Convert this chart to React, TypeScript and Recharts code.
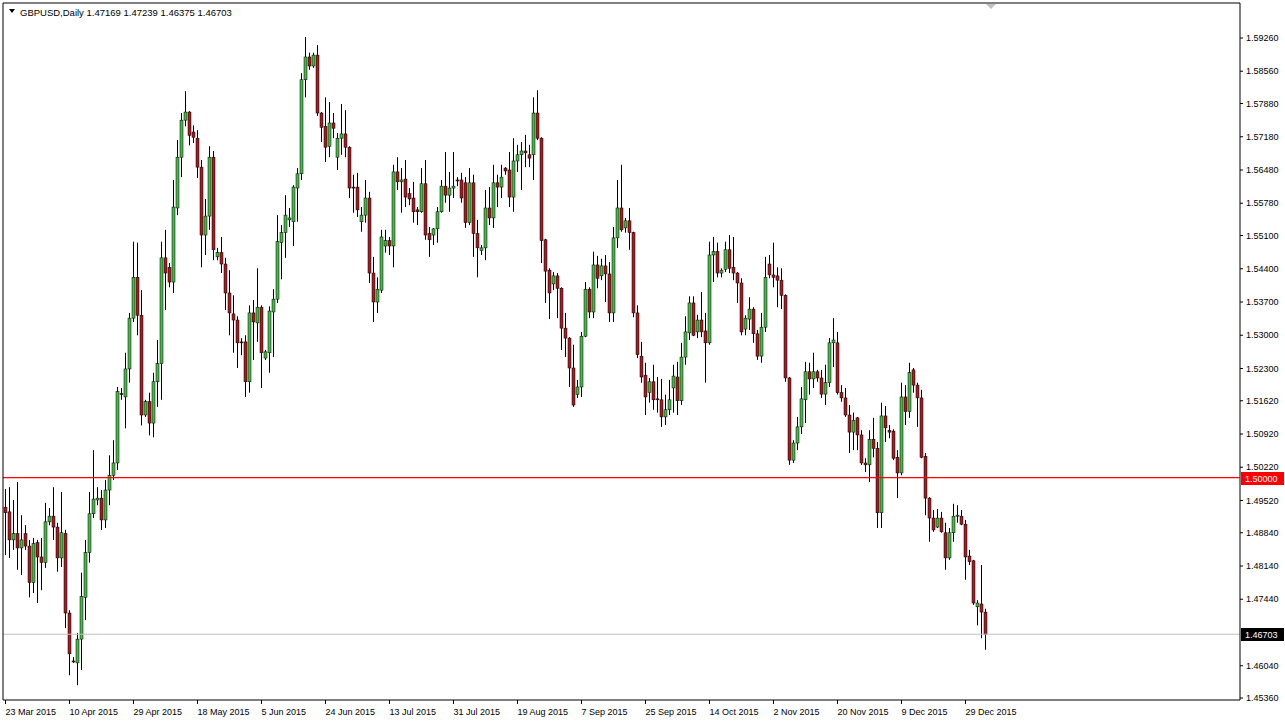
import { ComposedChart, Bar, XAxis, YAxis, ReferenceLine } from 'recharts';

// GBPUSD daily candles, 23 Mar 2015 .. 4 Jan 2016 (MT4 with Sunday bars)
const SYMBOL = 'GBPUSD,Daily';

const OPEN = [
  1.4938, 1.4928, 1.4869, 1.4882, 1.4852, 1.4882, 1.4856, 1.4779, 1.4863, 1.4833,
  1.4821, 1.4907, 1.4919, 1.4896, 1.4831, 1.4882, 1.4715, 1.4614, 1.4610, 1.4660,
  1.4748, 1.4842, 1.4924, 1.4953, 1.4957, 1.4911, 1.4974, 1.5005, 1.5031, 1.5177,
  1.5170, 1.5229, 1.5336, 1.5422, 1.5342, 1.5132, 1.5160, 1.5115, 1.5202, 1.5240,
  1.5463, 1.5443, 1.5412, 1.5568, 1.5675, 1.5753, 1.5770, 1.5728, 1.5715, 1.5654,
  1.5511, 1.5551, 1.5675, 1.5465, 1.5474, 1.5450, 1.5389, 1.5345, 1.5332, 1.5286,
  1.5286, 1.5202, 1.5347, 1.5326, 1.5359, 1.5252, 1.5263, 1.5349, 1.5376, 1.5495,
  1.5516, 1.5543, 1.5539, 1.5610, 1.5640, 1.5838, 1.5886, 1.5867, 1.5890, 1.5768,
  1.5740, 1.5698, 1.5747, 1.5675, 1.5715, 1.5724, 1.5696, 1.5612, 1.5612, 1.5539,
  1.5553, 1.5589, 1.5431, 1.5370, 1.5395, 1.5488, 1.5499, 1.5488, 1.5644, 1.5623,
  1.5629, 1.5598, 1.5589, 1.5564, 1.5560, 1.5619, 1.5514, 1.5511, 1.5524, 1.5560,
  1.5614, 1.5595, 1.5610, 1.5627, 1.5627, 1.5621, 1.5537, 1.5621, 1.5514, 1.5478,
  1.5484, 1.5568, 1.5547, 1.5621, 1.5612, 1.5652, 1.5648, 1.5591, 1.5667, 1.5680,
  1.5688, 1.5680, 1.5680, 1.5768, 1.5715, 1.5501, 1.5437, 1.5408, 1.5425, 1.5399,
  1.5315, 1.5294, 1.5231, 1.5175, 1.5191, 1.5298, 1.5397, 1.5349, 1.5448, 1.5425,
  1.5446, 1.5429, 1.5347, 1.5505, 1.5568, 1.5526, 1.5541, 1.5516, 1.5347, 1.5256,
  1.5216, 1.5179, 1.5202, 1.5166, 1.5164, 1.5128, 1.5143, 1.5189, 1.5212, 1.5162,
  1.5254, 1.5305, 1.5368, 1.5307, 1.5332, 1.5309, 1.5284, 1.5469, 1.5476, 1.5431,
  1.5439, 1.5480, 1.5443, 1.5431, 1.5410, 1.5313, 1.5334, 1.5355, 1.5303, 1.5256,
  1.5317, 1.5450, 1.5427, 1.5425, 1.5416, 1.5384, 1.5210, 1.5037, 1.5073, 1.5107,
  1.5164, 1.5223, 1.5208, 1.5223, 1.5210, 1.5176, 1.5200, 1.5284, 1.5284, 1.5179,
  1.5168, 1.5132, 1.5096, 1.5126, 1.5090, 1.5031, 1.5027, 1.5081, 1.5062, 1.4926,
  1.5130, 1.5100, 1.5098, 1.5043, 1.5010, 1.5170, 1.5139, 1.5227, 1.5195, 1.5168,
  1.5045, 1.4957, 1.4915, 1.4896, 1.4915, 1.4884, 1.4831, 1.4884, 1.4919, 1.4919,
  1.4902, 1.4835, 1.4825, 1.4728, 1.4734, 1.47169,
];

const HIGH = [
  1.4976, 1.4980, 1.4953, 1.4991, 1.4921, 1.4900, 1.4869, 1.4873, 1.4869, 1.4873,
  1.4947, 1.4936, 1.4980, 1.4905, 1.4970, 1.4890, 1.4721, 1.4622, 1.4673, 1.4800,
  1.4869, 1.4970, 1.5058, 1.4980, 1.4974, 1.4995, 1.5047, 1.5079, 1.5191, 1.5189,
  1.5263, 1.5347, 1.5497, 1.5495, 1.5395, 1.5164, 1.5179, 1.5221, 1.5290, 1.5497,
  1.5522, 1.5452, 1.5627, 1.5711, 1.5768, 1.5814, 1.5772, 1.5742, 1.5732, 1.5669,
  1.5587, 1.5698, 1.5688, 1.5484, 1.5507, 1.5463, 1.5437, 1.5384, 1.5340, 1.5294,
  1.5300, 1.5363, 1.5374, 1.5441, 1.5363, 1.5269, 1.5361, 1.5397, 1.5553, 1.5532,
  1.5595, 1.5568, 1.5616, 1.5652, 1.5852, 1.5928, 1.5895, 1.5895, 1.5911, 1.5770,
  1.5801, 1.5791, 1.5768, 1.5726, 1.5787, 1.5774, 1.5698, 1.5638, 1.5642, 1.5570,
  1.5627, 1.5602, 1.5465, 1.5422, 1.5522, 1.5522, 1.5507, 1.5659, 1.5675, 1.5652,
  1.5669, 1.5610, 1.5623, 1.5570, 1.5652, 1.5669, 1.5528, 1.5526, 1.5570, 1.5627,
  1.5686, 1.5644, 1.5686, 1.5633, 1.5642, 1.5633, 1.5652, 1.5638, 1.5543, 1.5490,
  1.5606, 1.5612, 1.5659, 1.5638, 1.5659, 1.5654, 1.5686, 1.5715, 1.5701, 1.5707,
  1.5722, 1.5701, 1.5801, 1.5816, 1.5717, 1.5503, 1.5441, 1.5433, 1.5431, 1.5401,
  1.5347, 1.5296, 1.5280, 1.5206, 1.5307, 1.5412, 1.5401, 1.5476, 1.5467, 1.5461,
  1.5469, 1.5454, 1.5528, 1.5627, 1.5659, 1.5547, 1.5568, 1.5518, 1.5363, 1.5286,
  1.5242, 1.5210, 1.5238, 1.5212, 1.5208, 1.5175, 1.5206, 1.5238, 1.5244, 1.5284,
  1.5340, 1.5382, 1.5382, 1.5343, 1.5391, 1.5347, 1.5497, 1.5507, 1.5495, 1.5441,
  1.5497, 1.5511, 1.5507, 1.5433, 1.5420, 1.5342, 1.5380, 1.5359, 1.5311, 1.5347,
  1.5465, 1.5469, 1.5495, 1.5443, 1.5441, 1.5386, 1.5212, 1.5079, 1.5128, 1.5191,
  1.5244, 1.5242, 1.5263, 1.5227, 1.5227, 1.5238, 1.5294, 1.5336, 1.5307, 1.5195,
  1.5189, 1.5153, 1.5137, 1.5128, 1.5100, 1.5041, 1.5100, 1.5126, 1.5075, 1.5158,
  1.5151, 1.5111, 1.5102, 1.5058, 1.5200, 1.5195, 1.5242, 1.5231, 1.5200, 1.5185,
  1.5052, 1.4959, 1.4932, 1.4934, 1.4928, 1.4905, 1.4894, 1.4945, 1.4942, 1.4932,
  1.4911, 1.4848, 1.4827, 1.4742, 1.4816, 1.47239,
];

const LOW = [
  1.4837, 1.4831, 1.4848, 1.4806, 1.4795, 1.4848, 1.4748, 1.4757, 1.4736, 1.4763,
  1.4810, 1.4900, 1.4869, 1.4802, 1.4812, 1.4683, 1.4584, 1.4610, 1.4563, 1.4595,
  1.4700, 1.4821, 1.4915, 1.4942, 1.4890, 1.4894, 1.4942, 1.4995, 1.5016, 1.5164,
  1.5104, 1.5200, 1.5328, 1.5300, 1.5110, 1.5128, 1.5089, 1.5085, 1.5149, 1.5164,
  1.5353, 1.5401, 1.5389, 1.5553, 1.5633, 1.5740, 1.5700, 1.5705, 1.5631, 1.5443,
  1.5469, 1.5522, 1.5458, 1.5458, 1.5431, 1.5353, 1.5300, 1.5263, 1.5231, 1.5258,
  1.5170, 1.5179, 1.5248, 1.5286, 1.5189, 1.5248, 1.5221, 1.5254, 1.5368, 1.5418,
  1.5463, 1.5528, 1.5488, 1.5539, 1.5627, 1.5801, 1.5859, 1.5863, 1.5762, 1.5707,
  1.5665, 1.5675, 1.5715, 1.5648, 1.5680, 1.5675, 1.5589, 1.5558, 1.5549, 1.5518,
  1.5537, 1.5410, 1.5328, 1.5347, 1.5389, 1.5474, 1.5469, 1.5443, 1.5606, 1.5558,
  1.5570, 1.5574, 1.5537, 1.5532, 1.5558, 1.5501, 1.5465, 1.5490, 1.5495, 1.5558,
  1.5579, 1.5560, 1.5589, 1.5614, 1.5579, 1.5526, 1.5532, 1.5465, 1.5422, 1.5469,
  1.5458, 1.5532, 1.5526, 1.5570, 1.5589, 1.5638, 1.5570, 1.5560, 1.5644, 1.5606,
  1.5654, 1.5654, 1.5627, 1.5711, 1.5452, 1.5368, 1.5334, 1.5395, 1.5336, 1.5269,
  1.5254, 1.5191, 1.5149, 1.5168, 1.5170, 1.5296, 1.5336, 1.5336, 1.5399, 1.5416,
  1.5370, 1.5328, 1.5328, 1.5484, 1.5518, 1.5516, 1.5480, 1.5338, 1.5252, 1.5200,
  1.5132, 1.5158, 1.5143, 1.5137, 1.5107, 1.5111, 1.5132, 1.5137, 1.5132, 1.5153,
  1.5238, 1.5290, 1.5298, 1.5294, 1.5296, 1.5200, 1.5280, 1.5412, 1.5422, 1.5422,
  1.5433, 1.5431, 1.5416, 1.5368, 1.5300, 1.5300, 1.5311, 1.5284, 1.5248, 1.5242,
  1.5307, 1.5420, 1.5401, 1.5359, 1.5355, 1.5202, 1.5027, 1.5031, 1.5058, 1.5092,
  1.5115, 1.5175, 1.5189, 1.5202, 1.5168, 1.5153, 1.5191, 1.5233, 1.5175, 1.5160,
  1.5128, 1.5052, 1.5058, 1.5058, 1.5027, 1.5012, 1.4991, 1.5043, 1.4894, 1.4894,
  1.5075, 1.5083, 1.5037, 1.4957, 1.5005, 1.5111, 1.5126, 1.5179, 1.5107, 1.5041,
  1.4921, 1.4865, 1.4886, 1.4894, 1.4884, 1.4806, 1.4827, 1.4865, 1.4905, 1.4900,
  1.4785, 1.4816, 1.4732, 1.4689, 1.4662, 1.46375,
];

const CLOSE = [
  1.4926, 1.4869, 1.4882, 1.4852, 1.4869, 1.4856, 1.4779, 1.4861, 1.4833, 1.4821,
  1.4907, 1.4919, 1.4896, 1.4831, 1.4884, 1.4715, 1.4629, 1.4613, 1.4660, 1.4750,
  1.4842, 1.4924, 1.4955, 1.4957, 1.4911, 1.4974, 1.5005, 1.5031, 1.5181, 1.5176,
  1.5229, 1.5336, 1.5422, 1.5342, 1.5132, 1.5160, 1.5115, 1.5202, 1.5240, 1.5463,
  1.5431, 1.5412, 1.5570, 1.5675, 1.5753, 1.5770, 1.5721, 1.5717, 1.5654, 1.5511,
  1.5551, 1.5675, 1.5480, 1.5474, 1.5450, 1.5389, 1.5347, 1.5332, 1.5284, 1.5285,
  1.5202, 1.5347, 1.5328, 1.5359, 1.5263, 1.5265, 1.5351, 1.5376, 1.5497, 1.5516,
  1.5553, 1.5547, 1.5612, 1.5640, 1.5838, 1.5886, 1.5867, 1.5890, 1.5768, 1.5738,
  1.5696, 1.5747, 1.5736, 1.5715, 1.5724, 1.5696, 1.5610, 1.5611, 1.5564, 1.5553,
  1.5589, 1.5431, 1.5370, 1.5397, 1.5507, 1.5499, 1.5488, 1.5644, 1.5623, 1.5627,
  1.5591, 1.5587, 1.5560, 1.5560, 1.5619, 1.5511, 1.5501, 1.5524, 1.5560, 1.5614,
  1.5595, 1.5610, 1.5614, 1.5626, 1.5589, 1.5537, 1.5621, 1.5514, 1.5484, 1.5484,
  1.5568, 1.5547, 1.5621, 1.5612, 1.5633, 1.5646, 1.5591, 1.5667, 1.5680, 1.5688,
  1.5684, 1.5673, 1.5768, 1.5715, 1.5499, 1.5435, 1.5389, 1.5425, 1.5399, 1.5315,
  1.5294, 1.5231, 1.5153, 1.5191, 1.5298, 1.5397, 1.5349, 1.5448, 1.5420, 1.5446,
  1.5429, 1.5347, 1.5505, 1.5568, 1.5522, 1.5541, 1.5516, 1.5347, 1.5259, 1.5212,
  1.5170, 1.5202, 1.5164, 1.5165, 1.5128, 1.5143, 1.5164, 1.5214, 1.5162, 1.5254,
  1.5307, 1.5368, 1.5300, 1.5332, 1.5307, 1.5284, 1.5469, 1.5476, 1.5431, 1.5437,
  1.5480, 1.5441, 1.5431, 1.5410, 1.5307, 1.5336, 1.5355, 1.5303, 1.5256, 1.5317,
  1.5422, 1.5427, 1.5422, 1.5416, 1.5384, 1.5210, 1.5037, 1.5073, 1.5107, 1.5166,
  1.5223, 1.5208, 1.5223, 1.5210, 1.5176, 1.5200, 1.5284, 1.5290, 1.5179, 1.5168,
  1.5132, 1.5096, 1.5121, 1.5090, 1.5031, 1.5027, 1.5081, 1.5062, 1.4926, 1.5130,
  1.5105, 1.5096, 1.5041, 1.5010, 1.5170, 1.5139, 1.5221, 1.5195, 1.5168, 1.5043,
  1.4957, 1.4915, 1.4890, 1.4915, 1.4886, 1.4831, 1.4884, 1.4919, 1.4921, 1.4902,
  1.4833, 1.4823, 1.4736, 1.4736, 1.4717, 1.46703,
];

// date labels on the time scale and the bar they sit on
const TICK_BARS = [0, 16, 32, 48, 64, 80, 96, 112, 128, 144, 160, 176, 192, 208, 224, 240];
const TICK_DATES = [
  '23 Mar 2015', '10 Apr 2015', '29 Apr 2015', '18 May 2015', '5 Jun 2015', '24 Jun 2015',
  '13 Jul 2015', '31 Jul 2015', '19 Aug 2015', '7 Sep 2015', '25 Sep 2015', '14 Oct 2015',
  '2 Nov 2015', '20 Nov 2015', '9 Dec 2015', '29 Dec 2015',
];

const PRICE_TICKS = [
  1.5926, 1.5856, 1.5788, 1.5718, 1.5648, 1.5578, 1.551, 1.544, 1.537, 1.53,
  1.523, 1.5162, 1.5092, 1.5022, 1.4952, 1.4884, 1.4814, 1.4744, 1.4604, 1.4536,
];

const LEVEL = 1.5;
const BID = 1.46703;

const UP = '#46b846';
const DOWN = '#a11d22';
const FONT = '"Liberation Sans", Arial, sans-serif';

const W = 1285;
const H = 724;
const BAR_DOMAIN: [number, number] = [-0.625, 308.625];
const PRICE_DOMAIN: [number, number] = [1.45318, 1.59997];

const candles = OPEN.map((open, i) => ({
  n: i,
  open,
  high: HIGH[i],
  low: LOW[i],
  close: CLOSE[i],
}));

function Candle(props: any) {
  const { x, y, width, height, payload } = props;
  if (!payload || x == null || y == null) return null;
  const top = Math.min(y, y + height);
  const bot = Math.max(y, y + height);
  const span = payload.high - payload.low || 1e-9;
  const toY = (p: number) => top + ((payload.high - p) / span) * (bot - top);
  const cx = Math.floor(x + width / 2) + 0.5;
  const up = payload.close >= payload.open;
  const yo = toY(payload.open);
  const yc = toY(payload.close);
  const bTop = Math.min(yo, yc);
  const bBot = Math.max(yo, yc);
  return (
    <g>
      <line x1={cx} x2={cx} y1={top} y2={bot} stroke="#000" strokeWidth={1} />
      <rect
        x={cx - 1.5}
        y={bTop}
        width={3}
        height={Math.max(bBot - bTop, 1)}
        fill={up ? UP : DOWN}
        stroke="#000"
        strokeWidth={0.5}
      />
    </g>
  );
}

function DateTick(props: any) {
  const { x, y, payload } = props;
  const k = TICK_BARS.indexOf(payload.value);
  return (
    <text x={x} y={y + 11} fontSize={9} fontFamily={FONT} fill="#000" textAnchor="start">
      {TICK_DATES[k]}
    </text>
  );
}

function PriceTag({ viewBox, text, bg }: any) {
  if (!viewBox) return null;
  const left = viewBox.x + viewBox.width + 1;
  const cy = Math.round(viewBox.y);
  return (
    <g>
      <rect x={left} y={cy - 6} width={43} height={13} fill={bg} />
      <text x={left + 4} y={cy + 4} fontSize={9} fontFamily={FONT} fill="#fff">
        {text}
      </text>
    </g>
  );
}

export default function App() {
  return (
    <div style={{ position: 'absolute', left: 0, top: 0, width: W, height: H, background: '#fff' }}>
      <ComposedChart
        width={W}
        height={H}
        data={candles}
        margin={{ top: 3, right: 0, bottom: 0, left: 3 }}
      >
        <XAxis
          dataKey="n"
          type="number"
          domain={BAR_DOMAIN}
          allowDataOverflow
          ticks={TICK_BARS}
          interval={0}
          height={24}
          tick={<DateTick />}
          tickSize={4}
          tickMargin={0}
          tickLine={{ stroke: '#000' }}
          axisLine={{ stroke: '#000' }}
        />
        <YAxis
          orientation="right"
          type="number"
          domain={PRICE_DOMAIN}
          allowDataOverflow
          ticks={PRICE_TICKS}
          interval={0}
          width={45}
          tickFormatter={(v: number) => v.toFixed(5)}
          tick={{ fontSize: 9, fill: '#000', fontFamily: FONT }}
          tickSize={3}
          tickMargin={3}
          tickLine={{ stroke: '#000' }}
          axisLine={{ stroke: '#000' }}
        />
        <ReferenceLine
          y={BID}
          stroke="#c0c0c0"
          label={<PriceTag text={BID.toFixed(5)} bg="#000" />}
        />
        <ReferenceLine
          y={LEVEL}
          stroke="#ff0000"
          strokeWidth={1.2}
          label={<PriceTag text={LEVEL.toFixed(5)} bg="#ff0000" />}
        />
        <ReferenceLine x={BAR_DOMAIN[0]} stroke="#000" />
        <ReferenceLine y={PRICE_DOMAIN[1]} stroke="#000" />
        <Bar
          dataKey={(d: any) => [d.low, d.high]}
          shape={<Candle />}
          barSize={3}
          isAnimationActive={false}
        />
      </ComposedChart>
      <svg
        width={W}
        height={H}
        style={{ position: 'absolute', left: 0, top: 0, pointerEvents: 'none' }}
      >
        <polygon points="9,9 15,9 12,13" fill="#000" />
        <text x={20} y={16} fontSize={9.5} fontFamily={FONT} fill="#000">
          {`${SYMBOL}  ${OPEN[OPEN.length - 1].toFixed(5)} ${HIGH[HIGH.length - 1].toFixed(5)} ${LOW[LOW.length - 1].toFixed(5)} ${CLOSE[CLOSE.length - 1].toFixed(5)}`}
        </text>
        <polygon points="986,4 996,4 991,9" fill="#c0c0c0" />
      </svg>
    </div>
  );
}
